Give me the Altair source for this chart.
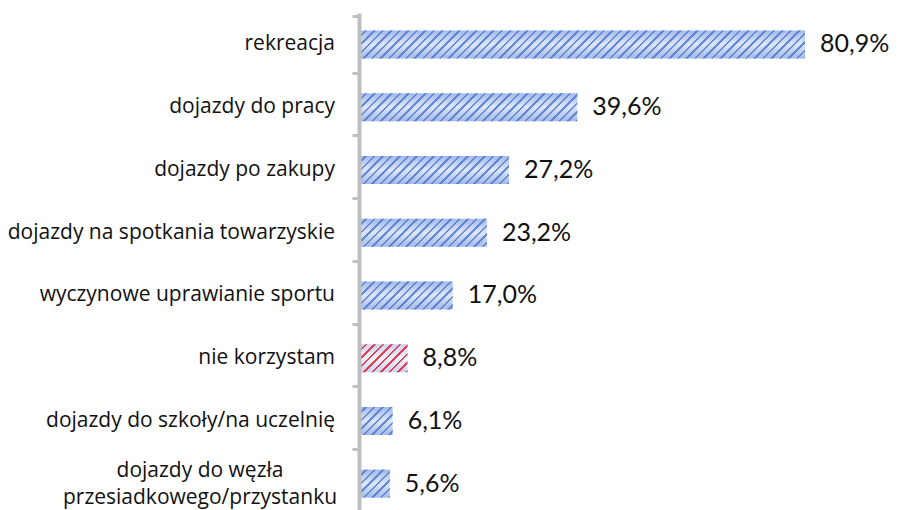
import altair as alt
import pandas as pd

categories = [
    "rekreacja",
    "dojazdy do pracy",
    "dojazdy po zakupy",
    "dojazdy na spotkania towarzyskie",
    "wyczynowe uprawianie sportu",
    "nie korzystam",
    "dojazdy do szkoły/na uczelnię",
    "dojazdy do węzła\nprzesiadkowego/przystanku",
]
values = [80.9, 39.6, 27.2, 23.2, 17.0, 8.8, 6.1, 5.6]
highlight = ["nie korzystam"]

value_labels = [f"{v:.1f}".replace(".", ",") + "%" for v in values]

df = pd.DataFrame({
    "cat": categories,
    "value": values,
    "label": value_labels,
    "multi": ["\n" in c for c in categories],
})

# layout / style
PX = 5.513
PLOT_W = 531
PLOT_H = 502
X_MAX = PLOT_W / PX
BAR_H = 28
FONT = "Open Sans"
VFONT = "Lato"
TXT = "#111111"

BLUE_EDGE = "#a3b8e7"
BLUE_MID = "#dfe7f7"
BLUE_ST = "#4f7bd6"
RED_EDGE = "#c9d3ef"
RED_MID = "#f3f5fb"
RED_ST = "#e5213b"
CLEAR = "rgba(255,255,255,0)"


def shade(edge, mid):
    return alt.LinearGradient(
        gradient="linear", x1=0, y1=0, x2=0, y2=1,
        stops=[
            alt.GradientStop(offset=0, color=edge),
            alt.GradientStop(offset=0.5, color=mid),
            alt.GradientStop(offset=1, color=edge),
        ],
    )


def hatch(width, height, st, period=8.5, frac=0.3):
    a = width / height
    b = 1.0
    s = (a + b) / (a * a + b * b)
    n = (width + height) / period
    stops = []
    k = 0
    while k < n:
        o0 = k / n
        o1 = min((k + 1 - frac) / n, 1)
        o2 = min((k + 1) / n, 1)
        stops += [
            alt.GradientStop(offset=o0, color=CLEAR),
            alt.GradientStop(offset=o1, color=CLEAR),
            alt.GradientStop(offset=o1, color=st),
            alt.GradientStop(offset=o2, color=st),
        ]
        k += 1
    return alt.LinearGradient(gradient="linear", x1=0, y1=0, x2=a * s, y2=b * s, stops=stops)


y_enc = alt.Y(
    "cat:N",
    sort=categories,
    title=None,
    axis=alt.Axis(
        labels=False,
        domainColor="#bfbfbf",
        domainWidth=4,
        tickColor="#bfbfbf",
        tickWidth=3,
        tickSize=7,
        tickBand="extent",
        zindex=1,
    ),
)
x_scale = alt.Scale(domain=[0, X_MAX], nice=False, zero=True)
x_enc = alt.X("value:Q", scale=x_scale, axis=None)

base = alt.Chart(df)

bar_layers = []
for c, v in zip(categories, values):
    is_hl = c in highlight
    sub = base.transform_filter(alt.datum.cat == c)
    under = shade(RED_EDGE, RED_MID) if is_hl else shade(BLUE_EDGE, BLUE_MID)
    bar_layers.append(sub.mark_bar(size=BAR_H, fill=under).encode(x=x_enc, y=y_enc))
    grad = hatch(v * PX, BAR_H, RED_ST if is_hl else BLUE_ST)
    bar_layers.append(sub.mark_bar(size=BAR_H, fill=grad, fillOpacity=0.85).encode(x=x_enc, y=y_enc))

values_text = base.mark_text(
    align="left", baseline="middle", dx=15, font=VFONT, fontSize=25, color=TXT
).encode(x=x_enc, y=y_enc, text="label:N")

cat_single = base.transform_filter(~alt.datum.multi).mark_text(
    align="right", baseline="middle", font=FONT, fontSize=21, color=TXT
).encode(x=alt.value(-24), y=y_enc, text="cat:N")

cat_multi = base.transform_filter(alt.datum.multi).mark_text(
    align="center", baseline="middle", font=FONT, fontSize=21, color=TXT,
    lineBreak="\n", lineHeight=27, dy=-13,
).encode(x=alt.value(-159), y=y_enc, text="cat:N")

chart = (
    alt.layer(*bar_layers, values_text, cat_single, cat_multi)
    .properties(
        width=PLOT_W,
        height=PLOT_H,
        autosize=alt.AutoSizeParams(type="none"),
        padding={"left": 351, "top": 5, "right": 0, "bottom": 0},
    )
    .configure_view(stroke=None)
)

chart.save("out.html", embed_options={"renderer": "svg", "actions": False})
